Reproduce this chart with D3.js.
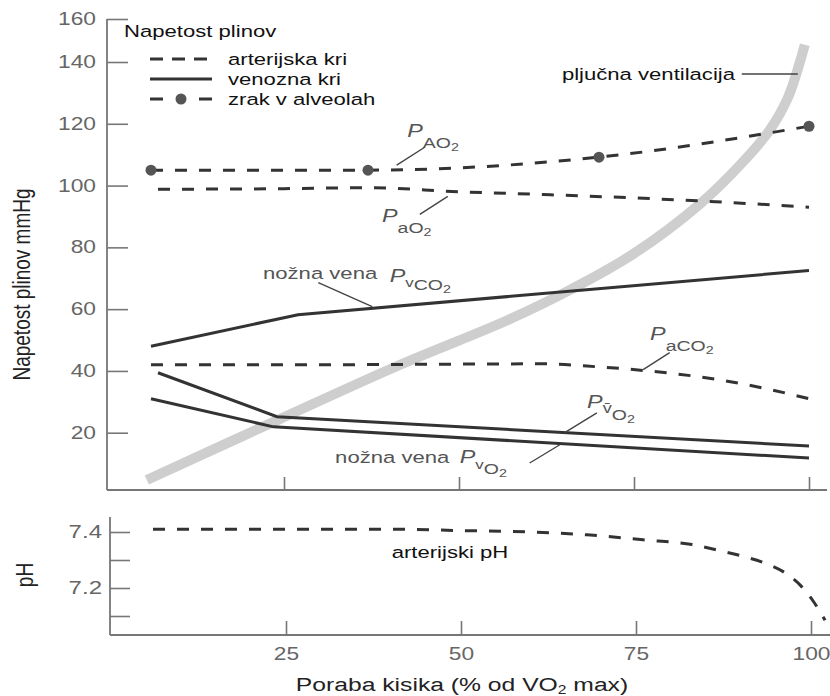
<!DOCTYPE html>
<html>
<head>
<meta charset="utf-8">
<script src="https://cdn.jsdelivr.net/npm/d3@7"></script>
<style>
  html, body { margin: 0; padding: 0; background: #fff; }
  svg { display: block; }
</style>
</head>
<body>
<svg id="chart" width="830" height="696"></svg>
<script>
// ---- data: x = oxygen uptake (% of VO2 max) ----
const xTicks = [25, 50, 75, 100];
const yTicks = [20, 40, 60, 80, 100, 120, 140, 160];
const phTicks = [7.1, 7.2, 7.3, 7.4];
const phLabelled = [7.2, 7.4];

// alveolar PO2 (measured points, drawn with dots)
const alvX = [6, 37, 70, 100];
const alvY = [105, 105, 109.2, 119.2];
// arterial PO2
const artO2X = [7, 25, 37, 50, 62, 75, 88, 100];
const artO2Y = [98.8, 99, 99.3, 98, 97.1, 96, 94.6, 93];
// arterial PCO2
const artCO2X = [6, 30, 50, 62, 70, 77, 87, 94, 100];
const artCO2Y = [42, 42, 42.2, 42.3, 41.3, 40, 37.2, 34.2, 31];
// femoral vein PCO2
const legCO2X = [6, 27, 100];
const legCO2Y = [48, 58.2, 72.5];
// mixed venous PO2
const mixO2X = [7, 24, 100];
const mixO2Y = [39.4, 25.2, 15.7];
// femoral vein PO2
const legO2X = [6, 23.5, 100];
const legO2Y = [31, 21.9, 11.8];
// pulmonary ventilation (relative units, drawn on the pressure scale)
const ventX = [5.4, 24, 41.6, 57, 66, 75, 84.4, 90.5, 94.4, 97, 98.7, 99.4];
const ventY = [4.7, 24, 42, 56.5, 66.4, 78, 94, 107.5, 118, 128.5, 140, 148];
// arterial pH
const phX = [6, 20, 40, 50, 60, 68, 76, 83, 87, 90, 93.4, 96.3, 98.7, 100.4, 102];
const phY = [7.41, 7.41, 7.41, 7.405, 7.4, 7.39, 7.372, 7.355, 7.333, 7.315, 7.289, 7.254, 7.204, 7.15, 7.085];

const zip = (a, b) => a.map((v, i) => [v, b[i]]);

// ---- layout ----
const svg = d3.select("#chart");
const FONT = '"Liberation Sans", Arial, Helvetica, sans-serif';
const SX = 1.3;              // lettering is set wide
const INK = "#333";
const AXIS = "#777";

const x = d3.scaleLinear().domain([0, 100]).range([109, 809]);
const xPh = d3.scaleLinear().domain([0, 100]).range([111, 811]);
// pressure axis: the top interval (140-160) is compressed
const y = d3.scaleLinear().domain([0, 140, 160]).range([494.5, 62, 19]);
const yPh = d3.scaleLinear().domain([7.2, 7.4]).range([588, 532]);

const topBase = 490, topLeft = 107, topRight = 827;
const phBase = 635, phLeft = 110, phRight = 830, phTop = 517;

// text helper: wide lettering, optional rotation
function txt(px, py, s, o = {}) {
  const t = svg.append("text")
    .attr("transform", `translate(${px},${py}) scale(${SX},1)` + (o.rotate ? " rotate(-90)" : ""))
    .attr("font-family", FONT)
    .attr("font-size", o.size || 17)
    .attr("fill", o.fill || "#111")
    .attr("text-anchor", o.anchor || "start");
  if (s != null) t.text(s);
  return t;
}
// P with subscripts: parts = [[text, size, dy], ...]
function pLabel(px, py, parts, fill = "#555") {
  const t = txt(px, py, null, { fill });
  t.append("tspan").attr("font-style", "italic").attr("font-size", 18).text("P");
  parts.forEach(([s, size, dy]) => t.append("tspan").attr("font-size", size).attr("dy", dy).text(s));
  return t;
}
function leader(a, b, sx = x, sy = y) {
  svg.append("line")
    .attr("x1", sx(a[0])).attr("y1", sy(a[1]))
    .attr("x2", sx(b[0])).attr("y2", sy(b[1]))
    .attr("stroke", "#444").attr("stroke-width", 1.4);
}

// ---- axes, upper panel ----
svg.append("line").attr("x1", topLeft).attr("x2", topLeft)
  .attr("y1", y(160)).attr("y2", topBase).attr("stroke", AXIS).attr("stroke-width", 1.8);
svg.append("line").attr("x1", topLeft).attr("x2", topRight)
  .attr("y1", topBase).attr("y2", topBase).attr("stroke", AXIS).attr("stroke-width", 1.8);

const gy = svg.append("g").attr("transform", `translate(${topLeft},0)`)
  .call(d3.axisLeft(y).tickValues(yTicks).tickSizeInner(-21).tickSizeOuter(0));
gy.select(".domain").remove();
gy.selectAll(".tick line").attr("stroke", AXIS).attr("stroke-width", 1.6);
gy.selectAll(".tick text")
  .attr("x", -11 / SX).attr("transform", `scale(${SX},1)`)
  .attr("font-family", FONT).attr("font-size", 17.5).attr("fill", "#666");

const gx = svg.append("g").attr("transform", `translate(0,${topBase})`)
  .call(d3.axisBottom(x).tickValues(xTicks).tickSizeInner(-13).tickSizeOuter(0).tickFormat(""));
gx.select(".domain").remove();
gx.selectAll(".tick line").attr("stroke", AXIS).attr("stroke-width", 1.6);

// ---- axes, pH panel ----
svg.append("line").attr("x1", phLeft).attr("x2", phLeft)
  .attr("y1", phTop).attr("y2", phBase).attr("stroke", AXIS).attr("stroke-width", 1.8);
svg.append("line").attr("x1", phLeft).attr("x2", phRight)
  .attr("y1", phBase).attr("y2", phBase).attr("stroke", AXIS).attr("stroke-width", 1.8);

const gph = svg.append("g").attr("transform", `translate(${phLeft},0)`)
  .call(d3.axisLeft(yPh).tickValues(phTicks).tickSizeInner(-20).tickSizeOuter(0)
    .tickFormat(d => phLabelled.some(v => Math.abs(v - d) < 1e-9) ? d3.format(".1f")(d) : ""));
gph.select(".domain").remove();
gph.selectAll(".tick line").attr("stroke", AXIS).attr("stroke-width", 1.6);
gph.selectAll(".tick text")
  .attr("x", -8 / SX).attr("transform", `scale(${SX},1)`)
  .attr("font-family", FONT).attr("font-size", 18.5).attr("fill", "#666");

const gxph = svg.append("g").attr("transform", `translate(0,${phBase})`)
  .call(d3.axisBottom(xPh).tickValues(xTicks).tickSizeInner(-14).tickSizeOuter(0));
gxph.select(".domain").remove();
gxph.selectAll(".tick line").attr("stroke", AXIS).attr("stroke-width", 1.6);
gxph.selectAll(".tick text")
  .attr("y", 25).attr("dy", null).attr("transform", `scale(${SX},1)`)
  .attr("font-family", FONT).attr("font-size", 17.5).attr("fill", "#666");

// ---- series ----
const line = (sx, sy, curve) => d3.line().x(d => sx(d[0])).y(d => sy(d[1])).curve(curve);

// pulmonary ventilation: wide grey band, underneath the gas tensions
svg.append("path").datum(zip(ventX, ventY))
  .attr("d", line(x, y, d3.curveCatmullRom.alpha(0.5)))
  .attr("fill", "none").attr("stroke", "#cecece").attr("stroke-width", 10);

const dashed = "12,12";
function series(data, curve, dash) {
  svg.append("path").datum(data)
    .attr("d", line(x, y, curve))
    .attr("fill", "none").attr("stroke", INK).attr("stroke-width", 3)
    .attr("stroke-dasharray", dash || null);
}
series(zip(alvX, alvY), d3.curveMonotoneX, dashed);
series(zip(artO2X, artO2Y), d3.curveMonotoneX, dashed);
series(zip(artCO2X, artCO2Y), d3.curveMonotoneX, dashed);
series(zip(legCO2X, legCO2Y), d3.curveLinear);
series(zip(mixO2X, mixO2Y), d3.curveLinear);
series(zip(legO2X, legO2Y), d3.curveLinear);

svg.selectAll("circle.alv").data(zip(alvX, alvY)).join("circle")
  .attr("class", "alv")
  .attr("cx", d => x(d[0])).attr("cy", d => y(d[1])).attr("r", 5.5).attr("fill", "#555");

svg.append("path").datum(zip(phX, phY))
  .attr("d", line(xPh, yPh, d3.curveMonotoneX))
  .attr("fill", "none").attr("stroke", INK).attr("stroke-width", 3)
  .attr("stroke-dasharray", dashed);

// ---- legend ----
txt(124, 37, "Napetost plinov");
const legendRows = [
  { label: "arterijska kri", dash: "13,9", dot: false },
  { label: "venozna kri", dash: null, dot: false },
  { label: "zrak v alveolah", dash: "13,36,13", dot: true }
];
legendRows.forEach((r, i) => {
  const ly = 59 + i * 20;
  svg.append("line").attr("x1", 150).attr("x2", 212).attr("y1", ly).attr("y2", ly)
    .attr("stroke", INK).attr("stroke-width", 3).attr("stroke-dasharray", r.dash);
  if (r.dot) svg.append("circle").attr("cx", 181).attr("cy", ly).attr("r", 5.5).attr("fill", "#555");
  txt(228, ly + 6, r.label);
});

// ---- annotations (positions in data units) ----
pLabel(x(42.6), y(115.6), [["AO", 15, 11], ["2", 11, 3]]);
leader([45.1, 112.4], [41.1, 106.6]);

pLabel(x(39), y(88.1), [["a", 15, 11], ["O", 15, 0], ["2", 11, 3]]);
leader([44.4, 90.7], [48.4, 96.5]);

txt(x(22), y(69.9), "nožna vena", { fill: "#555" });
pLabel(x(40.1), y(68.9), [["v", 13, 5], ["CO", 15, 3], ["2", 11, 3]]);
leader([29.9, 68.6], [37.6, 60.8]);

pLabel(x(77.3), y(50.1), [["a", 15, 11], ["CO", 15, 0], ["2", 11, 3]]);
leader([80.1, 45.9], [76.3, 40.4]);

pLabel(x(68.3), y(28.1), [["v\u0304", 14, 5], ["O", 15, 7], ["2", 11, 3]]);
leader([69.7, 26.4], [65.1, 20.0]);

txt(x(32.3), y(10.2), "nožna vena", { fill: "#555" });
pLabel(x(50.1), y(10.2), [["v", 13, 6], ["O", 15, 5], ["2", 11, 3]]);
leader([60.1, 10.2], [64.4, 16.1]);

txt(x(64.7), y(134.1), "pljučna ventilacija");
leader([90.4, 136.1], [98.4, 136.1]);

txt(xPh(40.1), yPh(7.307), "arterijski pH");

// ---- axis titles ----
const xt = txt(462, 691, null, { size: 19, anchor: "middle", fill: "#222" });
xt.append("tspan").text("Poraba kisika (% od VO");
xt.append("tspan").attr("font-size", 12).attr("dy", 3).text("2");
xt.append("tspan").attr("dy", -3).text(" max)");

txt(30, 284.5, "Napetost plinov mmHg", { size: 19, anchor: "middle", rotate: true, fill: "#222" });
txt(33, 575, "pH", { size: 19, anchor: "middle", rotate: true, fill: "#222" });
</script>
</body>
</html>
